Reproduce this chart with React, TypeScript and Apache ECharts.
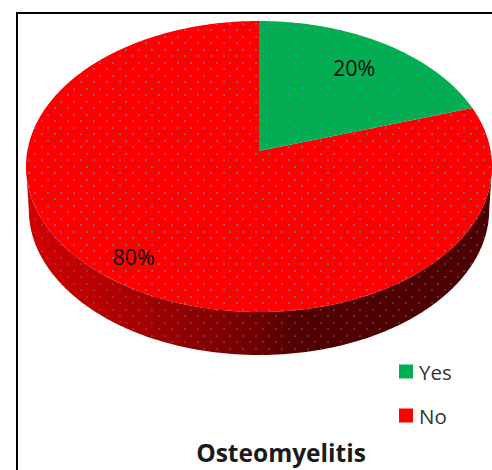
import React, { useEffect, useRef } from "react";
import * as echarts from "echarts";

const chartTitle = "Osteomyelitis";
const categories = ["Yes", "No"];
const shares = [20, 80];
const sliceColors = ["#00b050", "#ff0000"];

// Label distance from the pie centre, as a fraction of the radius.
const labelRadius: Record<string, number> = { Yes: 0.76, No: 0.84 };

const FONT = "'Open Sans', sans-serif";

// Tilted-disc projection: a unit circle is carried to the screen so that its
// centre falls above the middle of the resulting ellipse, as in a 3D pie.
const APEX_X = 259;
const APEX_Y = 151;
const WIDTH_SCALE = 231.7;
const DEPTH_SCALE = 143.85;
const PERSPECTIVE = 0.1065;
const WALL_DROP = 43;
const WALL_SHRINK = 0.988;

function project(theta: number, r: number, drop = 0, shrink = 1): number[] {
  const u = Math.sin(theta) * r;
  const v = -Math.cos(theta) * r;
  const w = 1 - PERSPECTIVE * v;
  return [
    APEX_X + (WIDTH_SCALE * shrink * u) / w,
    APEX_Y + drop + (DEPTH_SCALE * v) / w,
  ];
}

function dotTile(dot: string, size = 13): HTMLCanvasElement {
  const tile = document.createElement("canvas");
  tile.width = size;
  tile.height = size;
  const ctx = tile.getContext("2d")!;
  ctx.fillStyle = dot;
  ctx.fillRect(2, 3, 2, 2);
  ctx.fillRect(8, 10, 2, 2);
  return tile;
}

function arcPoints(from: number, to: number, drop = 0, shrink = 1): number[][] {
  const steps = Math.max(8, Math.ceil(Math.abs(to - from) / 0.01));
  const points: number[][] = [];
  for (let i = 0; i <= steps; i++) {
    points.push(project(from + ((to - from) * i) / steps, 1, drop, shrink));
  }
  return points;
}

export default function App() {
  const ref = useRef<HTMLDivElement>(null);

  useEffect(() => {
    document.body.style.margin = "0";
    const chart = echarts.init(ref.current!, undefined, { renderer: "svg" });
    const total = shares.reduce((a, b) => a + b, 0);
    const topDots = { image: dotTile("rgba(105,120,170,0.7)"), repeat: "repeat" };
    const wallDots = { image: dotTile("rgba(90,120,190,0.4)"), repeat: "repeat" };

    const series = categories.map((name, index) => {
      const before = shares.slice(0, index).reduce((a, b) => a + b, 0);
      return {
        type: "custom",
        name,
        coordinateSystem: "none",
        itemStyle: { color: sliceColors[index] },
        data: [[shares[index]]],
        z: index === 0 ? 3 : 2,
        renderItem: (_params: unknown, api: any) => {
          const value = api.value(0);
          const start = (before / total) * Math.PI * 2;
          const end = ((before + value) / total) * Math.PI * 2;
          const mid = (start + end) / 2;
          const children: any[] = [];

          // The visible front wall runs between the silhouette's two extremes.
          const wallFrom = Math.max(start, Math.acos(-PERSPECTIVE));
          const wallTo = Math.min(end, Math.PI * 2 - Math.acos(-PERSPECTIVE));
          if (wallTo > wallFrom) {
            const wall = [
              ...arcPoints(wallFrom, wallTo),
              ...arcPoints(wallTo, wallFrom, WALL_DROP, WALL_SHRINK),
            ];
            children.push({
              type: "polygon",
              shape: { points: wall },
              style: {
                fill: {
                  type: "linear", x: 0, y: 0, x2: 1, y2: 0,
                  colorStops: [
                    { offset: 0, color: "#d40000" },
                    { offset: 0.2, color: "#b00000" },
                    { offset: 0.42, color: "#800000" },
                    { offset: 0.5, color: "#6e0000" },
                    { offset: 0.58, color: "#520000" },
                    { offset: 1, color: "#4c0000" },
                  ],
                },
              },
            });
            children.push({
              type: "polygon",
              shape: { points: wall },
              style: { fill: wallDots },
            });
          }

          const face = [[APEX_X, APEX_Y], ...arcPoints(start, end)];
          children.push({
            type: "polygon",
            shape: { points: face },
            style: { fill: sliceColors[index] },
          });
          children.push({
            type: "polygon",
            shape: { points: face },
            style: { fill: topDots },
          });

          const [lx, ly] = project(mid, labelRadius[name]);
          children.push({
            type: "text",
            z2: 10,
            style: {
              x: lx - 2,
              y: ly,
              text: `${value}%`,
              fill: "#0a0a0a",
              font: `21.5px ${FONT}`,
              align: "center",
              verticalAlign: "middle",
            },
          });
          return { type: "group", children };
        },
      };
    });

    chart.setOption({
      animation: false,
      backgroundColor: "#ffffff",
      title: {
        text: chartTitle,
        left: 281,
        top: 440,
        padding: 0,
        textAlign: "center",
        textStyle: { fontFamily: FONT, fontSize: 24.5, fontWeight: "bold", color: "#1a1a1a" },
      },
      legend: {
        data: categories,
        orient: "vertical",
        left: 399,
        top: 361,
        icon: "rect",
        itemWidth: 14,
        itemHeight: 14,
        itemGap: 23,
        padding: 0,
        textStyle: { fontFamily: FONT, fontSize: 20.5, color: "#333333", padding: [0, 0, 0, 1] },
      },
      graphic: [
        {
          type: "polyline",
          silent: true,
          z: 100,
          shape: { points: [[17, 470], [17, 13], [492, 13]] },
          style: { stroke: "#000000", lineWidth: 2, fill: "none" },
        },
      ],
      series,
    });
    return () => chart.dispose();
  }, []);

  return <div ref={ref} style={{ width: 492, height: 470 }} />;
}
